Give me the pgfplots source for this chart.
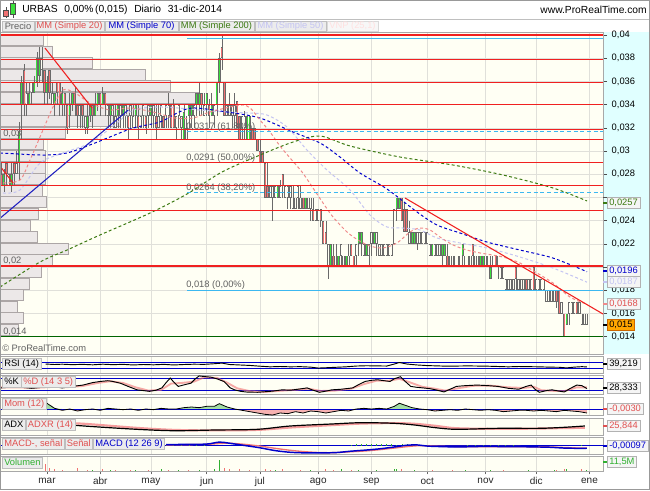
\documentclass[border=0pt]{standalone}
\usepackage{fontspec}
\setmainfont{Liberation Sans}
\usepackage{pgfplots}
\pgfplotsset{compat=1.18}
\usepackage{pgfplotstable}

\definecolor{bgc}{HTML}{FFFFF4}
\definecolor{cyanbg}{HTML}{E0FFFF}
\definecolor{rline}{HTML}{F02020}
\definecolor{fibc}{HTML}{3CB8F0}
\definecolor{cgreen}{HTML}{3CE03C}
\definecolor{cred}{HTML}{F07272}
\definecolor{cgray}{HTML}{6A6A6A}
\definecolor{ma20}{HTML}{F08A8A}
\definecolor{ma70}{HTML}{0000CC}
\definecolor{ma200}{HTML}{3C7A12}
\definecolor{ma50}{HTML}{C4C4F2}
\definecolor{gridc}{HTML}{E0E0DA}
\definecolor{tabbg}{HTML}{ECECEC}
\definecolor{tabbd}{HTML}{BEBEBE}
\definecolor{profc}{HTML}{ECE8E8}
\definecolor{profbd}{HTML}{ACA6A6}
\definecolor{pnlbd}{HTML}{A8A8A8}
\definecolor{txtg}{HTML}{606060}
\definecolor{dkgreen}{HTML}{006400}
\definecolor{lblred}{HTML}{E05050}
\definecolor{volg}{HTML}{30B030}
\definecolor{trblue}{HTML}{2020C0}

\pgfplotstableread{
i lo hi wl wh t
-18 27 28 27 29 -1
-17 27 28 26.5 28.5 1
-16 28 29 27 29 -1
-15 27 28 27 28 0
-14 27 28 26.5 29 1
-13 28 29 27 29 -1
-12 28 29 28 30 0
-11 29 31.7 27.5 32.5 1
-10 34 36 31 36.5 1
-9 34 37 33 37.5 -1
-8 34 35 33 36 0
-7 34 35 34 36 1
-6 35 36 34 36 0
-5 35 36 35 36.5 1
-4 36 38 35.5 38.5 1
-3 36.5 38 36 39 1
-2 37 38 36 39 0
-1 35 37 34 37 -1
0 35 36 34 36.5 1
1 35 37 34.5 37 -1
2 34 35 34 36 0
3 34 35 33 35 1
4 35 36 34 36 -1
5 34 36 33 36 -1
6 34 35 33 35.5 1
7 34 35 33 35 -1
8 32 34 31.5 34 -1
9 33 34 32 35 1
10 34 35 33.5 35 1
11 34 35 33 35.5 -1
12 33 34 32 34 -1
13 33 34 32 34 0
14 33 34 32 34 -1
15 32 33 31.5 33 0
16 32 33 31.5 34 1
17 33 34 32.5 34 1
18 33 34 32 34 -1
19 33 34 33 35 1
20 34 35 33.5 35 1
21 34 35 33 35 -1
22 34 35 34 35.5 1
23 34 35 33 35 -1
24 33 34 32 34 0
25 33 34 32 34 1
26 33 34 32 34 0
27 32 33 32 34 0
28 33 34 32 34 1
29 33 34 32 34 0
30 33 34 32 34 1
31 33 34 32 34 0
32 32 33 31 33 -1
33 33 34 32 34 0
34 32 33 32 34 0
35 33 34 32 34 1
36 32 33 31 34 -1
37 32 33 32 33 0
38 33 34 32 34 0
39 32 33 31.5 33 -1
40 33 34 32 34 0
41 33 34 32 34 1
42 33 34 32 34 0
43 32 33 31 34 -1
44 32 33 32 34 0
45 33 34 32 34 0
46 32 33 32 33 -1
47 33 34 32 34 0
48 33 34 32 35 0
49 32 34 32 34 -1
50 32 34 32 34.5 -1
51 32 33 31 33 0
52 33 34 32 34 0
53 32 33 31 33 0
54 31 33.4 31 34 1
55 31 32 31 33 0
56 33 34 32 34 1
57 33 34 32 34 1
58 33 34 32 34 0
59 34 35 33 35 1
60 34 35 33 36 1
61 34 35 33 35 -1
62 33 34 33 35 0
63 34 35 33 35 1
64 33 34 32 34.5 -1
65 33 34 33 35 1
66 33 34 32 34 0
67 34 36 33 36 1
68 36 38 35 38.5 1
69 38 39 37 40 -1
70 33 36 33 36 -1
71 33 34 33 34 0
72 33 34 33 35 0
73 33 34 32 34 0
74 33 34 32 35 0
75 32 34.3 32 34.3 -1
76 31 33 31 33 -1
77 32 33 31 33 0
78 32 33 31 33.5 0
79 31 33 31 33 1
80 31 33 31 33 1
81 31 32 31 32 -1
82 31 32 31 32 -1
83 30 31 30 31 -1
84 29 30 29 31 -1
85 29 30 29 30 -1
86 26 29 26 29 -1
87 26 27 26 29 -1
88 26 27 26 27 0
89 26 27 24 27 0
90 26 27 26 27 0
91 26 27 26 27 1
92 26 27 26 27.5 0
93 27 28 26 28 -1
94 26 27 26 27 0
95 26 27 25 27 0
96 26 27 25 27 0
97 25 26 25 27 0
98 25 26 25 26 0
99 26 27 25 27 0
100 25 26 25 27 0
101 25 26 25 26 -1
102 25 26 25 26 1
103 25 26 25 26 0
104 25 26 24 26 0
105 24 25 24 26 -1
106 24 25 24 25 0
107 24 25 24 25 0
108 24 25 23.5 25 -1
109 22 24 22 24 -1
110 22 23 22 24 -1
111 20 22 19 22 0
112 20 22 20 22 1
113 20 21 20 22 -1
114 20 21 20 22 0
115 20 21 20 21 1
116 21 22 20 22 0
117 20 21 20 21 0
118 20 21 20 21 1
119 20 21 20 22 0
120 21 22 21 22 -1
121 20 21 20 21 -1
122 21 22 20 22 0
123 22 23 21 23 1
124 22 23 21 23 1
125 21 22 21 22 0
126 21 22 21 22 1
127 21 22 20 22 0
128 22 23 21 23 0
129 22 23 22 23 1
130 22 23 21 23 0
131 21 22 21 22 0
132 21 22 21 22 0
133 21 22 21 22 0
134 21 22 21 22 0
135 21 22 21 22 0
136 21 22 21 22 0
137 22 25 22 25 0
138 25 26 24 26 1
139 25 26 25 26 1
140 24 26 24 26 -1
141 23 25 23 25.5 -1
142 23 25 23 25 -1
143 22 23 22 24 0
144 22 23 22 23 1
145 22 23 22 23 1
146 22 23 21.5 23 0
147 22 23 22 23 0
148 22 23 22 23 0
149 22 23 22 23 0
150 22 23 22 23 0
151 21 22 21 22 0
152 21 22 21 22 1
153 21 22 21 22 0
154 21 22 21 22 0
155 21 22 21 22 0
156 21 22 20 22 1
157 21 22 21 22 1
158 20 21 20 22 -1
159 20 21 20 21 0
160 20 21 20 21 0
161 20 21 20 21 0
162 20 21 20 21 0
163 20 21 20 21 0
164 21 22 20 22 1
165 20 21 20 21 0
166 20 21 20 21 0
167 20 21 20 21 0
168 21 22 20 22 -1
169 20 21 20 21 0
170 20 21 20 21 0
171 20 21 20 21 1
172 20 21 20 21 1
173 20 21 20 21 0
174 20 21 20 21 0
175 19 20 19 21 1
176 20 21 20 21 0
177 20 21 20 21 -1
178 20 21 19 21 0
179 19 20 19 20 0
180 19 20 19 20 0
181 18 19 18 19 0
182 18 19 18 19 0
183 18 19 18 19 0
184 18 19 18 19 0
185 19 20 18 20 -1
186 18 19 18 19 0
187 18 19 18 19 0
188 18 19 18 19 0
189 18 19 18 19 -1
190 18 19 18 19 0
191 18 19 18 19 0
192 18 20 18 20 -1
193 18 19 18 19 0
194 18 19 18 19 0
195 18 19 18 19 0
196 18 19 18 19 0
197 17 18 17 18 0
198 17 18 17 18 0
199 17 18 17 18 0
200 17 18 17 18 0
201 17 18 16.5 18 -1
202 16 18 16 18 -1
203 16 17 16 17 0
204 14 16 14 16 -1
205 15 16 15 16 1
206 16 17 15 17 0
207 16 17 16 17 0
208 16 17 16 17 0
209 16 17 16 17 -1
210 16 17 16 17 0
211 15 16 15 16 0
212 15 16 15 16 0
213 15 16 15 16 0
}\candles

\pgfplotstableread{
i v
-0.5 58
3 55
6 57
10 54
14 56
18 53
22 57
26 54
30 56
34 52
38 55
42 53
46 56
50 52
54 55
58 57
62 56
66 60
69 64
72 55
76 52
80 49
84 44
88 40
92 42
96 40
100 41
104 38
107 32
110 34
114 37
118 40
122 45
126 47
130 46
134 45
137 58
139 68
142 58
146 52
150 48
154 46
158 44
162 45
166 46
170 45
174 44
178 42
182 40
186 42
190 41
194 40
198 38
202 37
205 33
208 38
211 41
213 39.2
}\rsi

\pgfplotstableread{
i v
-18.5 32
-12 38
-6 30
-2.2 35
2 40
6 32
10 40
14.2 47
18 60
21 66
24 70
26 66
28.9 57
32 40
35.5 22
38 18
40.4 14
43 20
45.3 32
47 60
48.6 84
50.2 60
51.8 40
54 48
56.8 57
58.5 80
60 95
62 92
64.9 88
67 80
69.8 66
72.3 32
74 22
76.4 14
79 10
83 9
86 12
89 15
92.8 22
96 20
99 25
102.6 32
105 20
107.5 9
110 15
112.4 22
116 25
120.6 32
123 50
125.5 66
128 72
130.4 75
133 70
135.3 66
137 80
139.4 91
141 70
143.5 40
146 35
148.4 32
151 28
153.3 22
156.6 11
159 25
161.5 40
165 44
169.7 47
174 44
177.9 40
182 30
186.1 25
189 40
191 47
192.5 25
194.2 9
197 18
199.2 22
202 15
204.1 11
206.5 30
209 47
211 44
213 28.3
}\ktab

\pgfplotstableread{
i v
-18.5 35
-10 34
-4 33
2 37
8 36
14 42
20 58
25 67
30 58
35 35
40 18
45 22
49 55
53 58
58 65
62 88
67 85
71 60
75 30
80 15
86 11
92 17
98 22
103 28
108 16
113 17
120 28
125 52
130 70
135 70
139 80
143 62
148 38
153 28
157 18
162 30
168 43
175 44
182 35
188 32
192 38
195 20
199 17
204 15
209 35
213 35
}\dtab

\pgfplotstableread{
i v
-1 0.0055
1 0.003
3 0.0005
6 -0.001
9 0.0
12 -0.0015
15 -0.0005
18 0.0
21 -0.001
24 0.0005
27 0.0
30 -0.0005
33 0.0
36 -0.001
39 0.0
42 -0.0005
45 0.0005
48 0.0
51 0.0
54 0.001
57 0.0015
60 0.001
63 0.002
66 0.002
68 0.004
71 0.0015
74 0.0
77 -0.001
80 -0.002
83 -0.003
86 -0.004
89 -0.0045
92 -0.003
95 -0.0035
98 -0.002
101 -0.003
104 -0.0015
107 -0.002
110 -0.003
113 -0.002
116 -0.001
119 -0.0015
122 0.0
125 0.0005
128 0.0
131 0.0005
134 0.0
137 0.002
139 0.0043
141 0.003
144 0.001
147 0.0
150 -0.0005
153 -0.0015
156 -0.001
159 -0.0005
162 -0.001
165 0.0
168 -0.0005
171 -0.001
174 -0.0005
177 -0.001
180 -0.002
183 -0.0015
186 -0.001
189 -0.001
192 -0.0015
195 -0.001
198 -0.0015
201 -0.002
204 -0.001
207 -0.0015
210 -0.002
213 -0.003
}\mom

\pgfplotstableread{
i v
2.3 39.4
14.6 31.5
35.5 21.7
50.2 17.6
66.6 19.7
83 21.7
96 31.5
112.4 37.4
123.9 41.2
137 39.4
145 34.4
153.3 26.5
161.5 21.7
177.9 24.6
194.2 24.6
204.1 27.6
212.2 31.5
}\adx

\pgfplotstableread{
i v
2.3 42
14.6 38
35.5 26
50.2 20
66.6 18.5
83 20
96 27
112.4 34
123.9 38.5
137 40
145 38
153.3 32
161.5 25
177.9 23
194.2 24
204.1 25.5
212.2 26
}\adxr

\pgfplotstableread{
i v
47 0.0003
55 0.0004
63 0.0005
68 0.0012
72 0.0008
78 0.0
84 -0.0008
90 -0.0018
96 -0.0024
102 -0.0026
108 -0.0026
114 -0.0025
120 -0.002
126 -0.0016
132 -0.0011
138 -0.0004
142 0.0001
146 0.0002
150 -0.0002
156 -0.0004
162 -0.0005
168 -0.0004
174 -0.0003
180 -0.0004
186 -0.0004
192 -0.0005
198 -0.0006
204 -0.0009
210 -0.001
213 -0.00097
}\macd

\pgfplotstableread{
i v
47 0.0002
55 0.0003
63 0.0004
68 0.0007
72 0.0008
78 0.0004
84 -0.0002
90 -0.001
96 -0.0017
102 -0.0022
108 -0.0025
114 -0.0025
120 -0.0022
126 -0.0019
132 -0.0014
138 -0.0008
142 -0.0004
146 -0.0001
150 -0.0001
156 -0.0003
162 -0.0004
168 -0.0004
174 -0.0004
180 -0.0004
186 -0.0004
192 -0.0005
198 -0.0005
204 -0.0007
210 -0.0009
213 -0.0009
}\sig

\pgfplotsset{
  sub/.style={scale only axis, width=452.25pt, xmin=-18.54, xmax=219.33, anchor=south west,
    axis background/.style={fill=bgc}, axis line style={pnlbd, line width=0.5pt},
    xtick={0,21,41,63,84,107,128,150,173,193,214}, xticklabels={}, xtick style={draw=none},
    ytick=\empty, xmajorgrids, grid style={gridc, line width=0.4pt}},
  eb/.style 2 args={draw=none, forget plot, error bars/y dir=both, error bars/y explicit,
    error bars/error mark=none, error bars/error bar style={draw=#1, solid, line width=#2}},
}
\tikzset{
  vb/.style={draw=black!30, fill=black!4, inner xsep=1.5pt, inner ysep=0pt, minimum height=8pt,
    text height=5.2pt, text depth=1.4pt, anchor=west, font=\fontsize{7}{8}\selectfont},
  lb/.style={draw=tabbd, fill=tabbg, inner xsep=1.5pt, inner ysep=0pt, minimum height=8pt,
    text height=5.2pt, text depth=1.4pt, anchor=north west, font=\fontsize{7}{8}\selectfont},
}

\begin{document}
\begin{tikzpicture}[font=\fontsize{7.5}{9}\selectfont]
\useasboundingbox (0,0) rectangle (487.5pt,367.5pt);
\begin{scope}[x=0.75pt,y=-0.75pt,yshift=367.5pt]
\fill[white] (0,0) rectangle (650,490);
\fill[cyanbg] (603,32) rectangle (650,354);
\end{scope}

% ---------- background: grid, price profile, right tick labels ----------
\begin{axis}[scale only axis, width=452.25pt, height=241.5pt, at={(0pt,102pt)}, anchor=south west,
  xmin=0, xmax=603, ymin=0.0125086, ymax=0.0402672,
  axis background/.style={fill=bgc}, axis line style={pnlbd, line width=0.5pt},
  xtick={47,100.2,150.9,206.7,259.9,318.2,371.5,427.3,485.6,536.3,589.5}, xticklabels={},
  xtick style={draw=none},
  ytick={0.014,0.016,0.018,0.022,0.024,0.028,0.03,0.032,0.034,0.036,0.038,0.04},
  extra y ticks={0.02,0.026}, extra y tick labels={},
  ytick pos=right, yticklabel pos=right, tick align=outside, major tick length=3pt,
  ytick style={black!70, line width=0.5pt},
  scaled y ticks=false,
  /pgf/number format/assume math mode=true,
  yticklabel style={/pgf/number format/.cd, fixed, use comma, precision=3, /tikz/.cd,
     font=\fontsize{7}{8}\selectfont, xshift=0pt},
  grid=major, grid style={gridc, line width=0.4pt}]
\addplot[xbar, bar width=0.00094, fill=profc, draw=profbd, line width=0.4pt] coordinates {
(18,0.0146) (23,0.0156) (17,0.0166) (23,0.0176) (29,0.0186) (41,0.0196) (52,0.0206) (68,0.0216)
(37,0.0226) (30,0.0236) (38,0.0246) (46,0.0256) (42,0.0266) (45,0.0276) (45,0.0286) (45,0.0296)
(43,0.0306) (65,0.0316) (120,0.0326) (150,0.0336) (198,0.0346) (170,0.0356) (145,0.0366)
(92,0.0376) (52,0.0386) (43,0.0396)};
\end{axis}

% ---------- main price panel ----------
\begin{axis}[scale only axis, width=452.25pt, height=241.5pt, at={(0pt,102pt)}, anchor=south west,
  xmin=-18.54, xmax=219.33, ymin=0.0125086, ymax=0.0402672, hide axis]
% wicks
\addplot[eb={cgray}{0.5pt}]
  table[x=i, y expr={(\thisrow{wl}+\thisrow{wh})/2000}, y error expr={(\thisrow{wh}-\thisrow{wl})/2000}] {\candles};
% body outlines
\addplot[eb={cgray}{1.75pt}]
  table[x=i, y expr={(\thisrow{lo}+\thisrow{hi})/2000}, y error expr={(\thisrow{hi}-\thisrow{lo})/2000}] {\candles};
% body fills
\addplot[eb={cgreen}{0.75pt}, restrict y to domain=0:1]
  table[x=i, y expr={\thisrow{t}>0.5 ? (\thisrow{lo}+\thisrow{hi})/2000 : -1},
        y error expr={(\thisrow{hi}-\thisrow{lo})/2000-0.00008}] {\candles};
\addplot[eb={cred}{0.75pt}, restrict y to domain=0:1]
  table[x=i, y expr={\thisrow{t}<-0.5 ? (\thisrow{lo}+\thisrow{hi})/2000 : -1},
        y error expr={(\thisrow{hi}-\thisrow{lo})/2000-0.00008}] {\candles};
\addplot[eb={bgc}{0.75pt}, restrict y to domain=0:1]
  table[x=i, y expr={abs(\thisrow{t})<0.5 ? (\thisrow{lo}+\thisrow{hi})/2000 : -1},
        y error expr={(\thisrow{hi}-\thisrow{lo})/2000-0.00008}] {\candles};

% moving averages
\addplot[ma200, line width=0.75pt, dash pattern=on 2.2pt off 1.8pt, smooth] coordinates {
(-18.54,0.01828)(-2.76,0.02044)(7.89,0.02147)(20.91,0.02277)(40.63,0.02466)(55.23,0.02630)
(69.03,0.02820)(84.02,0.02966)(97.04,0.03078)(107.69,0.03130)(119.53,0.03044)(139.25,0.02949)
(160.16,0.02880)(179.88,0.02794)(199.61,0.02682)(213.02,0.02570)};
\addplot[ma50, line width=0.75pt, dash pattern=on 2.2pt off 1.8pt, smooth] coordinates {
(-17.36,0.02639)(-10.65,0.02665)(-2.76,0.02897)(6.31,0.02984)(16.96,0.03070)(27.61,0.03242)
(33.93,0.03354)(43.39,0.03380)(51.28,0.03372)(60.36,0.03354)(71.01,0.03337)(80.08,0.03328)
(86.79,0.03311)(94.67,0.03208)(102.56,0.03009)(110.45,0.02837)(119.53,0.02665)(127.42,0.02449)
(134.12,0.02346)(140.43,0.02337)(147.14,0.02320)(153.85,0.02251)(162.92,0.02208)(173.57,0.02165)
(186.59,0.02087)(199.61,0.01992)(213.02,0.01870)};
\addplot[ma70, line width=0.75pt, dash pattern=on 2.2pt off 1.8pt, smooth] coordinates {
(-18.54,0.02984)(-1.58,0.02966)(7.89,0.02984)(16.96,0.03053)(24.85,0.03122)(33.93,0.03199)
(44.58,0.03251)(51.28,0.03328)(57.59,0.03372)(71.01,0.03337)(84.02,0.03285)(97.04,0.03165)
(107.69,0.03070)(115.58,0.02949)(123.47,0.02811)(134.12,0.02673)(145.96,0.02475)(153.85,0.02363)
(162.92,0.02294)(173.57,0.02216)(186.59,0.02147)(199.61,0.02078)(213.02,0.01960)};
\addplot[ma20, line width=0.75pt, dash pattern=on 2.2pt off 1.8pt, smooth] coordinates {
(-17.36,0.02725)(-10.65,0.02751)(-6.71,0.02923)(-1.58,0.03182)(2.37,0.03380)(6.31,0.03527)
(11.05,0.03501)(16.96,0.03415)(24.85,0.03354)(32.74,0.03372)(41.81,0.03337)(50.49,0.03285)
(57.59,0.03285)(64.3,0.03337)(76.13,0.03397)(80.08,0.03372)(84.02,0.03268)(87.97,0.03165)
(91.91,0.03044)(95.86,0.02941)(100.59,0.02820)(104.93,0.02682)(108.88,0.02553)(112.82,0.02432)
(118.34,0.02303)(122.68,0.02234)(127.42,0.02182)(132.54,0.02165)(138.07,0.02208)(143.2,0.02303)
(147.14,0.02337)(151.08,0.02320)(155.03,0.02259)(160.16,0.02191)(165.68,0.02147)(170.81,0.02122)
(179.88,0.02087)(186.59,0.02035)(193.29,0.01949)(199.61,0.01863)(206.31,0.01742)(213.02,0.01680)};

% horizontal levels
\addplot[fibc, line width=0.7pt] coordinates {(55.23,0.03974)(219.33,0.03974)};
\addplot[rline, line width=2pt] coordinates {(-18.54,0.04)(219.33,0.04)};
\addplot[rline, line width=0.8pt] coordinates {(-18.54,0.0379)(219.33,0.0379)};
\addplot[rline, line width=0.8pt] coordinates {(-18.54,0.0359)(219.33,0.0359)};
\addplot[rline, line width=0.8pt] coordinates {(-18.54,0.0340)(219.33,0.0340)};
\addplot[rline, line width=0.8pt] coordinates {(-18.54,0.0319)(219.33,0.0319)};
\addplot[rline, line width=0.8pt] coordinates {(-18.54,0.0310)(219.33,0.0310)};
\addplot[rline, line width=0.8pt] coordinates {(-18.54,0.0290)(219.33,0.0290)};
\addplot[rline, line width=0.8pt] coordinates {(-18.54,0.0270)(219.33,0.0270)};
\addplot[rline, line width=0.8pt] coordinates {(-18.54,0.0249)(219.33,0.0249)};
\addplot[rline, line width=2pt] coordinates {(-18.54,0.0201)(219.33,0.0201)};
\addplot[fibc, line width=0.8pt, dash pattern=on 3pt off 2pt] coordinates {(55.23,0.0317)(219.33,0.0317)};
\addplot[fibc, line width=0.8pt, dash pattern=on 3pt off 2pt] coordinates {(55.23,0.0264)(219.33,0.0264)};
\addplot[fibc, line width=0.8pt] coordinates {(55.23,0.018)(219.33,0.018)};
\addplot[dkgreen, line width=0.8pt] coordinates {(-18.54,0.014)(219.33,0.014)};

% trend lines
\addplot[rline, line width=0.8pt] coordinates {(-17.87,0.028517)(-13.29,0.027224)};
\addplot[rline, line width=0.8pt] coordinates {(-0.79,0.038888)(17.75,0.033716)};
\addplot[trblue, line width=0.8pt] coordinates {(-18.54,0.024207)(32.07,0.033543)};
\addplot[rline, line width=0.8pt] coordinates {(141.22,0.025957)(219.33,0.015957)};
\end{axis}

% ---------- RSI ----------
\begin{axis}[sub, at={(0pt,87.75pt)}, height=12.75pt, ymin=0, ymax=110]
\addplot[ma70, line width=0.6pt] coordinates {(-18.54,70)(219.33,70)};
\addplot[ma70, line width=0.6pt] coordinates {(-18.54,30)(219.33,30)};
\addplot[black, line width=0.7pt] table[x=i,y=v]{\rsi};
\end{axis}

% ---------- Stochastic ----------
\begin{axis}[sub, at={(0pt,72pt)}, height=14.25pt, ymin=0, ymax=100]
\addplot[ma70, line width=0.6pt] coordinates {(-18.54,80)(219.33,80)};
\addplot[ma70, line width=0.6pt] coordinates {(-18.54,20)(219.33,20)};
\addplot[cred, line width=1.4pt, opacity=0.6] table[x=i,y=v]{\dtab};
\addplot[black, line width=0.7pt] table[x=i,y=v]{\ktab};
\end{axis}

% ---------- Momentum ----------
\begin{axis}[sub, at={(0pt,56.25pt)}, height=13.5pt, ymin=-0.0045, ymax=0.009]
\addplot[fill=volg!45, draw=none] table[x=i, y expr={max(\thisrow{v},0)}]{\mom} \closedcycle;
\addplot[fill=cred!55, draw=none] table[x=i, y expr={min(\thisrow{v},0)}]{\mom} \closedcycle;
\addplot[ma70, line width=0.6pt] coordinates {(-18.54,0)(219.33,0)};
\addplot[black, line width=0.6pt] table[x=i,y=v]{\mom};
\end{axis}

% ---------- ADX ----------
\begin{axis}[sub, at={(0pt,41.25pt)}, height=12.75pt, ymin=5, ymax=55]
\addplot[cred!70, line width=1.6pt, smooth] table[x=i,y=v]{\adxr};
\addplot[black, line width=0.9pt, smooth] table[x=i,y=v]{\adx};
\end{axis}

% ---------- MACD ----------
\begin{axis}[sub, at={(0pt,27pt)}, height=12.75pt, ymin=-0.003, ymax=0.003]
\addplot[ma70, line width=0.6pt] coordinates {(-18.54,0)(219.33,0)};
\addplot[ycomb, volg, line width=0.6pt] coordinates {
(47,0.0002)(50,0.0002)(53,0.0002)(56,0.0002)(59,0.0002)(62,0.0002)(120,0.0003)(122,0.0004)
(124,0.0004)(126,0.0005)(128,0.0005)(130,0.0005)(132,0.0004)(134,0.0004)(136,0.0004)(138,0.0003)
(140,0.0005)(142,0.0005)(144,0.0003)(166,0.0002)(169,0.0002)(172,0.0002)(175,0.0002)(178,0.0002)
(181,0.0002)(184,0.0002)(211,0.0002)};
\addplot[cred, line width=1pt, smooth] table[x=i,y=v]{\sig};
\addplot[ma70, line width=1.1pt, smooth] table[x=i,y=v]{\macd};
\end{axis}

% ---------- Volume ----------
\begin{axis}[sub, at={(0pt,14.25pt)}, height=11.25pt, ymin=0, ymax=40,
  xticklabels={mar,abr,may,jun,jul,ago,sep,oct,nov,dic,ene},
  xtick style={draw=black!60, line width=0.5pt}, xtick pos=bottom, tick align=outside,
  major tick length=2.5pt,
  xticklabel style={font=\fontsize{7.5}{9}\selectfont, text=black!85, yshift=1pt}]
\addplot[ycomb, cred, line width=0.7pt] coordinates {
(-0.5,20)(1,8)(3,6)(6,4)(12,7)(16,4)(22,5)(27,3)(33,4)(40,3)(48,3)(56,4)(70,9)(72,6)(76,5)
(80,4)(86,6)(88,4)(93,5)(100,3)(110,6)(113,4)(120,3)(140,5)(152,3)(160,4)(180,3)(201,4)(204,6)(211,5)};
\addplot[ycomb, volg, line width=0.7pt] coordinates {
(18,3)(25,4)(35,3)(45,5)(52,3)(60,4)(66,6)(68,30)(90,3)(104,4)(116,5)(123,3)(130,4)(137,6)(138,5)
(145,3)(165,3)(175,3)(190,3)(200,3)(205,5)(213,4)};
\end{axis}

% ---------- text, tabs, boxes ----------
\begin{scope}[x=0.75pt,y=-0.75pt,yshift=367.5pt]
% title
\draw[black!70, line width=0.5pt] (6,7.5) -- (6,18);
\filldraw[fill=cred, draw=black!70, line width=0.4pt] (3.5,10.5) rectangle (8.5,16.5);
\draw[black!70, line width=0.5pt] (13,1) -- (13,18);
\filldraw[fill=cgreen, draw=black!70, line width=0.4pt] (10.5,3.5) rectangle (15.5,14.5);
\node[anchor=west, inner sep=0, font=\fontsize{7.7}{9}\selectfont] at (22,10)
  {URBAS\hspace{5pt}0,00\%\,(0,015)\hspace{5pt}Diario\hspace{5pt}31-dic-2014};
\node[anchor=east, inner sep=0, font=\fontsize{7.7}{9}\selectfont] at (647,10) {www.ProRealTime.com};
\draw[black!25] (0,19.5) -- (650,19.5);
% tabs
\begin{scope}[font=\fontsize{7}{8}\selectfont]
\filldraw[fill=tabbg, draw=tabbd] (2,21) rectangle (34,31.5);   \node[text=txtg] at (18,26.3) {Precio};
\filldraw[fill=tabbg, draw=tabbd] (35,21) rectangle (104,31.5); \node[text=lblred] at (69.5,26.3) {MM (Simple 20)};
\filldraw[fill=tabbg, draw=tabbd] (105,21) rectangle (178,31.5); \node[text=ma70] at (141.5,26.3) {MM (Simple 70)};
\filldraw[fill=tabbg, draw=tabbd] (179,21) rectangle (254,31.5); \node[text=ma200] at (216.5,26.3) {MM (Simple 200)};
\filldraw[fill=tabbg, draw=tabbd] (255,21) rectangle (326,31.5); \node[text=ma50] at (290.5,26.3) {MM (Simple 50)};
\filldraw[fill=black!3, draw=black!15] (327,21) rectangle (378,31.5); \node[text=red!12] at (352.5,26.3) {VNP (25,1)};
\end{scope}
% in-chart labels
\begin{scope}[font=\fontsize{7}{8}\selectfont, text=txtg]
\node[anchor=west, inner sep=0] at (186,127) {0,0317 (61,80\%)};
\node[anchor=west, inner sep=0] at (186,158) {0,0291 (50,00\%)};
\node[anchor=west, inner sep=0] at (186,188) {0,0264 (38,20\%)};
\node[anchor=west, inner sep=0] at (186,285) {0,018 (0,00\%)};
\node[anchor=west, inner sep=0] at (3,134) {0,03};
\node[anchor=west, inner sep=0] at (3,261) {0,02};
\node[anchor=west, inner sep=0] at (3,332) {0,014};
\node[anchor=west, inner sep=0] at (2,348) {\textcopyright{} ProRealTime.com};
\end{scope}
% price value boxes
\draw[ma200, line width=0.8pt] (603,203) -- (607,203); \node[vb, text=ma200] at (607,203) {0,0257};
\draw[ma70, line width=0.8pt] (603,271) -- (607,271); \node[vb, text=ma70] at (607,271) {0,0196};
\draw[ma50, line width=0.8pt] (603,282) -- (607,282); \node[vb, text=ma50] at (607,282) {0,0187};
\draw[ma20, line width=0.8pt] (603,304) -- (607,304); \node[vb, text=lblred] at (607,304) {0,0168};
\draw[black, line width=0.8pt] (603,325) -- (607,325); \node[vb, fill=orange!70!yellow, draw=orange!80!black, text=black] at (607,325) {0,015};
% panel labels
\node[lb] at (2,358) {RSI (14)};
\node[lb] (k1) at (2,376) {\%K}; \node[lb, text=lblred] at (k1.north east) {\%D (14 3 5)};
\node[lb, text=lblred] at (2,398) {Mom (12)};
\node[lb] (a1) at (2,419) {ADX}; \node[lb, text=lblred] at (a1.north east) {ADXR (14)};
\node[lb, text=lblred] (m1) at (2,438) {MACD-, señal};
\node[lb, text=lblred] (m2) at (m1.north east) {Señal};
\node[lb, text=ma70] at (m2.north east) {MACD (12 26 9)};
\node[lb, text=volg] at (2,457) {Volumen};
% panel value boxes
\draw[black, line width=0.8pt] (603,364) -- (607,364); \node[vb] at (607,364) {39,219};
\draw[black, line width=0.8pt] (603,388) -- (607,388); \node[vb] at (607,388) {28,333};
\draw[lblred, line width=0.8pt] (603,409) -- (607,409); \node[vb, text=lblred] at (607,409) {-0,0030};
\draw[lblred, line width=0.8pt] (603,426) -- (607,426); \node[vb, text=lblred] at (607,426) {25,844};
\draw[ma70, line width=0.8pt] (603,446) -- (607,446); \node[vb, text=ma70] at (607,446) {-0,00097};
\draw[volg, line width=0.8pt] (603,462) -- (607,462); \node[vb, text=volg] at (607,462) {11,5M};
\draw[black!40] (0.5,0.5) rectangle (649.5,489.5);
\end{scope}
\end{tikzpicture}
\end{document}
